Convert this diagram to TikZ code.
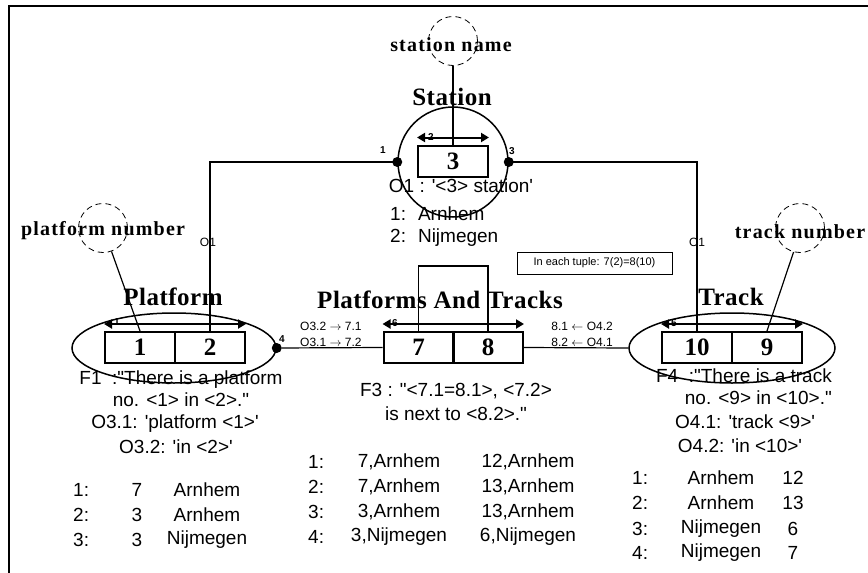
\documentclass[tikz,border=0pt]{standalone}
\usepackage{fontspec}
\setmainfont{Liberation Serif}
\newfontfamily\arial{Liberation Sans}
\newfontfamily\rolefont[LetterSpace=6]{Liberation Serif}
\newfontfamily\typefont[LetterSpace=2]{Liberation Serif}
\usepackage{tikz}
\usetikzlibrary{arrows.meta,shapes.geometric}
\definecolor{ink}{HTML}{000000}
\tikzset{
  outline/.style={line width=2pt,color=ink},
  link/.style={line width=1.2pt,color=ink},
  objtype/.style={draw=ink,line width=1.5pt,inner sep=0pt},
  valtype/.style={draw=ink,circle,dash pattern=on 6pt off 4pt,line width=0.8pt,minimum size=49pt,inner sep=0pt},
  cell/.style={draw=ink,line width=2pt,minimum width=70pt,minimum height=31pt,inner sep=0pt,font=\fontsize{25}{25}\selectfont\bfseries},
  uniq/.style={{Triangle[length=8pt,width=9pt]}-{Triangle[length=8pt,width=9pt]},line width=2pt,color=ink},
  dot/.style={circle,fill=ink,minimum size=10pt,inner sep=0pt},
  typename/.style={font=\typefont\fontsize{25}{25}\selectfont\bfseries,inner sep=0pt,text=ink},
  rolename/.style={font=\rolefont\fontsize{20}{20}\selectfont\bfseries,inner sep=0pt,text=ink},
  num/.style={font=\arial\fontsize{10}{10}\selectfont\bfseries,inner sep=0pt,text=ink},
  txt/.style={font=\arial\fontsize{19}{22}\selectfont,inner sep=0pt,align=center,text=ink},
  conlbl/.style={font=\arial\fontsize{12}{14}\selectfont,inner sep=0pt,text=ink},
  note/.style={draw=ink,line width=0.8pt,minimum width=155pt,minimum height=22pt,inner sep=0pt,font=\arial\fontsize{11}{13}\selectfont},
}
\begin{document}
\begin{tikzpicture}[x=1pt,y=-1pt]
  \useasboundingbox (0,0) rectangle (868,573);
  \draw[outline] (9,573) -- (9,6) -- (868,6);
  % object types
  \node[objtype,circle,minimum size=110pt] (station) at (453,162) {};
  \node[objtype,ellipse,minimum width=204pt,minimum height=70pt] (platform) at (174,348) {};
  \node[objtype,ellipse,minimum width=206pt,minimum height=70pt] (track) at (732,348) {};
  \node[typename] (stationlbl) at (452,97) {Station};
  \node[typename] (platformlbl) at (173,297) {Platform};
  \node[typename] (patlbl) at (440,300) {Platforms And Tracks};
  \node[typename] (tracklbl) at (731,297) {Track};
  % roles
  \node[cell] (c3) at (453,161) {3};
  \node[cell] (c1) at (140,347.5) {1};
  \node[cell] (c2) at (210,347.5) {2};
  \node[cell] (c7) at (418.5,347.5) {7};
  \node[cell] (c8) at (488,347.5) {8};
  \node[cell] (c10) at (697,347.5) {10};
  \node[cell] (c9) at (767,347.5) {9};
  \draw[uniq] ([yshift=7pt]c3.north west) -- ([yshift=7pt]c3.north east);
  \draw[uniq] ([yshift=7pt]c1.north west) -- ([yshift=7pt]c2.north east);
  \draw[uniq] ([yshift=7pt]c7.north west) -- ([yshift=7pt]c8.north east);
  \draw[uniq] ([yshift=7pt]c10.north west) -- ([yshift=7pt]c9.north east);
  \node[num] (u2) at (431,137) {2};
  \node[num] (u1) at (117,322) {1};
  \node[num] (u6) at (395,323) {6};
  \node[num] (u5) at (674,323) {5};
  % value types
  \node[valtype] (stname) at (453,41) {};
  \node[rolename] (stnamelbl) at (451,45) {station name};
  \node[valtype] (pnum) at (103,228) {};
  \node[rolename] (pnumlbl) at (103,231) {platform number};
  \node[valtype] (tnum) at (800,228) {};
  \node[rolename] (tnumlbl) at (800,232) {track number};
  \draw[link] (stname.south) -- (c3.north);
  \draw[link] (pnum.-70) -- (c1.north);
  \draw[link] (tnum.-105) -- (c9.north);
  % connectors
  \draw[link] (station.west) -| (c2.north);
  \draw[link] (station.east) -| (c10.north);
  \node[dot] (d1) at (station.west) {};
  \node[dot] (d3) at (station.east) {};
  \node[dot] (d4) at (platform.east) {};
  \node[num] (n1) at (383,150) {1};
  \node[num] (n3) at (512,151) {3};
  \node[num] (n4) at (282,339) {4};
  \draw[link] (d4) -- (c7.west);
  \draw[link] (c8.east) -- (track.west);
  \draw[link] (c7.north) -- ++(0,-65) -| (c8.north);
  \node[note] (tuple) at (594.5,263) {In each tuple: 7(2)=8(10)};
  \node[conlbl] (o1a) at (208,242) {O1};
  \node[conlbl] (o1b) at (697,242) {O1};
  \node[conlbl,anchor=west] (m1) at (300,326) {O3.2 $\rightarrow$ 7.1};
  \node[conlbl,anchor=west] (m2) at (300,342) {O3.1 $\rightarrow$ 7.2};
  \node[conlbl,anchor=east] (m3) at (613,326) {8.1 $\leftarrow$ O4.2};
  \node[conlbl,anchor=east] (m4) at (613,342) {8.2 $\leftarrow$ O4.1};
  % station facts
  \node[txt] (ex1) at (461,186) {O1 : '<3> station'};
  \node[txt,anchor=west] (st1) at (390,214) {1:\hspace{12pt}Arnhem};
  \node[txt,anchor=west] (st2) at (390,238) {2:\hspace{12pt}Nijmegen};
  % platform facts
  \node[txt] (fact1) at (181,389) {F1\ \ :"There is a platform\\no. <1> in <2>."};
  \node[txt] (ex31) at (175,424) {O3.1: 'platform <1>'};
  \node[txt] (ex32) at (176,447) {O3.2: 'in <2>'};
  \foreach \y/\n/\a/\b in {490/1/7/Arnhem,515/2/3/Arnhem,540/3/3/Nijmegen} {
    \node[txt,anchor=west] (pn\n) at (73,\y) {\n:};
    \node[txt] (pa\n) at (137,\y) {\a};
    \node[txt] (pb\n) at (207,\y) {\b};
  }
  % platforms and tracks facts
  \node[txt] (fact3) at (456,402) {F3 : "<7.1=8.1>, <7.2>\\[2pt]is next to <8.2>."};
  \foreach \y/\n/\a/\b in {462/1/{7,Arnhem}/{12,Arnhem},487/2/{7,Arnhem}/{13,Arnhem},512/3/{3,Arnhem}/{13,Arnhem},537/4/{3,Nijmegen}/{6,Nijmegen}} {
    \node[txt,anchor=west] (an\n) at (308,\y) {\n:};
    \node[txt] (aa\n) at (399,\y) {\a};
    \node[txt] (ab\n) at (528,\y) {\b};
  }
  % track facts
  \node[txt,align=right,anchor=east] (fact4) at (832,387) {F4\ \ :"There is a track\\no. <9> in <10>."};
  \node[txt] (ex41) at (745,422) {O4.1: 'track <9>'};
  \node[txt] (ex42) at (740,446) {O4.2: 'in <10>'};
  \foreach \y/\n/\a/\b in {478/1/Arnhem/12,503/2/Arnhem/13,529/3/Nijmegen/6,553/4/Nijmegen/7} {
    \node[txt,anchor=west] (tn\n) at (632,\y) {\n:};
    \node[txt] (ta\n) at (721,\y) {\a};
    \node[txt] (tb\n) at (793,\y) {\b};
  }
\end{tikzpicture}
\end{document}
